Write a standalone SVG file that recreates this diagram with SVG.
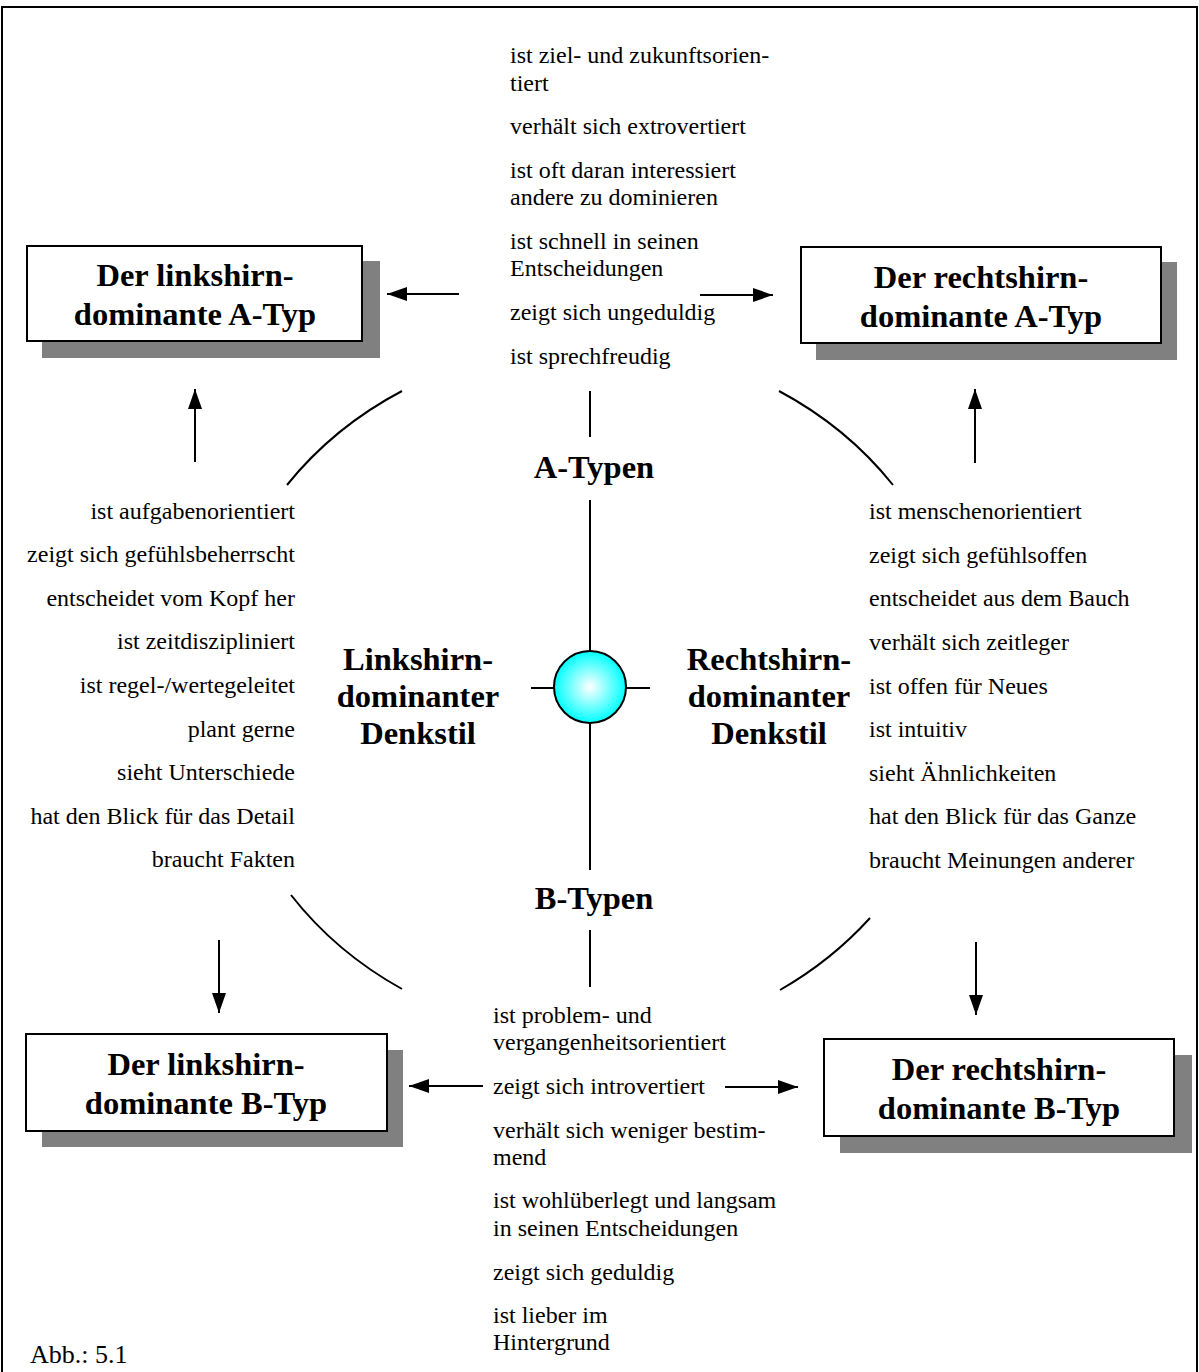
<svg xmlns="http://www.w3.org/2000/svg" width="1199" height="1372" viewBox="0 0 1199 1372">
  <style>
    .item { font-family: "Liberation Serif", "Times New Roman", serif; font-size: 24px; fill: #000; }
    .r { text-anchor: end; }
    .head { font-family: "Liberation Serif", "Times New Roman", serif; font-size: 32.5px; font-weight: bold; fill: #000; text-anchor: middle; }
    .box-title { font-family: "Liberation Serif", "Times New Roman", serif; font-size: 32.5px; font-weight: bold; fill: #000; text-anchor: middle; }
    .caption { font-family: "Liberation Serif", "Times New Roman", serif; font-size: 26px; fill: #000; }
    .box { fill: #fff; stroke: #000; stroke-width: 2; }
    .shadow { fill: #808080; }
    .ln { stroke: #000; stroke-width: 2; fill: none; }
  </style>
  <defs>
    <marker id="arrow" viewBox="0 0 20 14" refX="20" refY="7" markerWidth="20" markerHeight="14" markerUnits="userSpaceOnUse" orient="auto">
      <path d="M0,0 L20,7 L0,14 Z" fill="#000"/>
    </marker>
    <radialGradient id="ball" cx="50%" cy="50%" r="50%">
      <stop offset="0" stop-color="#ffffff"/>
      <stop offset="1" stop-color="#00ffff"/>
    </radialGradient>
  </defs>

  <rect width="1199" height="1372" fill="#fff"/>
  <!-- outer frame -->
  <rect x="2" y="7" width="1195" height="1380" fill="none" stroke="#000" stroke-width="2"/>

  <!-- connectors -->
  <g id="connectors">
    <!-- ellipse segments -->
    <path class="ln" d="M402,391 A376,343 0 0 0 287,485"/>
    <path class="ln" d="M779,391 A376,343 0 0 1 893,485"/>
    <path class="ln" d="M291,895 A376,343 0 0 0 402,989"/>
    <path class="ln" d="M870,918 A376,343 0 0 1 780,990"/>
    <!-- cross axes -->
    <line class="ln" x1="590" y1="391" x2="590" y2="437"/>
    <line class="ln" x1="590" y1="500" x2="590" y2="651"/>
    <line class="ln" x1="590" y1="723" x2="590" y2="870"/>
    <line class="ln" x1="590" y1="930" x2="590" y2="987"/>
    <line class="ln" x1="531" y1="688" x2="554" y2="688"/>
    <line class="ln" x1="626" y1="688" x2="650" y2="688"/>
    <!-- arrows -->
    <line class="ln" x1="459" y1="294" x2="387" y2="294" marker-end="url(#arrow)"/>
    <line class="ln" x1="700" y1="295" x2="773" y2="295" marker-end="url(#arrow)"/>
    <line class="ln" x1="195" y1="462" x2="195" y2="389" marker-end="url(#arrow)"/>
    <line class="ln" x1="975" y1="463" x2="975" y2="389" marker-end="url(#arrow)"/>
    <line class="ln" x1="219" y1="940" x2="219" y2="1013" marker-end="url(#arrow)"/>
    <line class="ln" x1="976" y1="942" x2="976" y2="1015" marker-end="url(#arrow)"/>
    <line class="ln" x1="483" y1="1086" x2="409" y2="1086" marker-end="url(#arrow)"/>
    <line class="ln" x1="725" y1="1087" x2="798" y2="1087" marker-end="url(#arrow)"/>
  </g>

  <!-- centre -->
  <g id="center">
    <circle cx="590" cy="687" r="36" fill="url(#ball)" stroke="#000" stroke-width="2"/>
  </g>

  <!-- type boxes -->
  <g id="box-left-a">
    <rect class="shadow" x="42" y="261" width="338" height="97"/>
    <rect class="box" x="27" y="246" width="335" height="95"/>
    <text class="box-title" x="195" y="286">Der linkshirn-</text>
    <text class="box-title" x="195" y="325">dominante A-Typ</text>
  </g>
  <g id="box-right-a">
    <rect class="shadow" x="816" y="262" width="361" height="98"/>
    <rect class="box" x="801" y="247" width="360" height="96"/>
    <text class="box-title" x="981" y="288">Der rechtshirn-</text>
    <text class="box-title" x="981" y="327">dominante A-Typ</text>
  </g>
  <g id="box-left-b">
    <rect class="shadow" x="42" y="1050" width="361" height="97"/>
    <rect class="box" x="26" y="1034" width="361" height="97"/>
    <text class="box-title" x="206" y="1075">Der linkshirn-</text>
    <text class="box-title" x="206" y="1114">dominante B-Typ</text>
  </g>
  <g id="box-right-b">
    <rect class="shadow" x="840" y="1055" width="352" height="98"/>
    <rect class="box" x="824" y="1039" width="350" height="97"/>
    <text class="box-title" x="999" y="1080">Der rechtshirn-</text>
    <text class="box-title" x="999" y="1119">dominante B-Typ</text>
  </g>

  <!-- axis labels -->
  <g id="label-a-typen">
    <text class="head" x="594" y="478">A-Typen</text>
  </g>
  <g id="label-b-typen">
    <text class="head" x="594" y="909">B-Typen</text>
  </g>
  <g id="label-links">
    <text class="head" x="418" y="670">Linkshirn-</text>
    <text class="head" x="418" y="707">dominanter</text>
    <text class="head" x="418" y="744">Denkstil</text>
  </g>
  <g id="label-rechts">
    <text class="head" x="769" y="670">Rechtshirn-</text>
    <text class="head" x="769" y="707">dominanter</text>
    <text class="head" x="769" y="744">Denkstil</text>
  </g>

  <!-- trait lists -->
  <g id="list-top">
    <text class="item" x="510" y="63">ist ziel- und zukunftsorien-</text>
    <text class="item" x="510" y="91">tiert</text>
    <text class="item" x="510" y="134">verhält sich extrovertiert</text>
    <text class="item" x="510" y="178">ist oft daran interessiert</text>
    <text class="item" x="510" y="205">andere zu dominieren</text>
    <text class="item" x="510" y="249">ist schnell in seinen</text>
    <text class="item" x="510" y="276">Entscheidungen</text>
    <text class="item" x="510" y="320">zeigt sich ungeduldig</text>
    <text class="item" x="510" y="364">ist sprechfreudig</text>
  </g>
  <g id="list-left">
    <text class="item r" x="295" y="519">ist aufgabenorientiert</text>
    <text class="item r" x="295" y="562">zeigt sich gefühlsbeherrscht</text>
    <text class="item r" x="295" y="606">entscheidet vom Kopf her</text>
    <text class="item r" x="295" y="649">ist zeitdiszipliniert</text>
    <text class="item r" x="295" y="693">ist regel-/wertegeleitet</text>
    <text class="item r" x="295" y="737">plant gerne</text>
    <text class="item r" x="295" y="780">sieht Unterschiede</text>
    <text class="item r" x="295" y="824">hat den Blick für das Detail</text>
    <text class="item r" x="295" y="867">braucht Fakten</text>
  </g>
  <g id="list-right">
    <text class="item" x="869" y="519">ist menschenorientiert</text>
    <text class="item" x="869" y="563">zeigt sich gefühlsoffen</text>
    <text class="item" x="869" y="606">entscheidet aus dem Bauch</text>
    <text class="item" x="869" y="650">verhält sich zeitleger</text>
    <text class="item" x="869" y="694">ist offen für Neues</text>
    <text class="item" x="869" y="737">ist intuitiv</text>
    <text class="item" x="869" y="781">sieht Ähnlichkeiten</text>
    <text class="item" x="869" y="824">hat den Blick für das Ganze</text>
    <text class="item" x="869" y="868">braucht Meinungen anderer</text>
  </g>
  <g id="list-bottom">
    <text class="item" x="493" y="1023">ist problem- und</text>
    <text class="item" x="493" y="1050">vergangenheitsorientiert</text>
    <text class="item" x="493" y="1094">zeigt sich introvertiert</text>
    <text class="item" x="493" y="1138">verhält sich weniger bestim-</text>
    <text class="item" x="493" y="1165">mend</text>
    <text class="item" x="493" y="1208">ist wohlüberlegt und langsam</text>
    <text class="item" x="493" y="1236">in seinen Entscheidungen</text>
    <text class="item" x="493" y="1280">zeigt sich geduldig</text>
    <text class="item" x="493" y="1323">ist lieber im</text>
    <text class="item" x="493" y="1350">Hintergrund</text>
  </g>

  <g id="caption">
    <text class="caption" x="30" y="1363">Abb.: 5.1</text>
  </g>
</svg>
